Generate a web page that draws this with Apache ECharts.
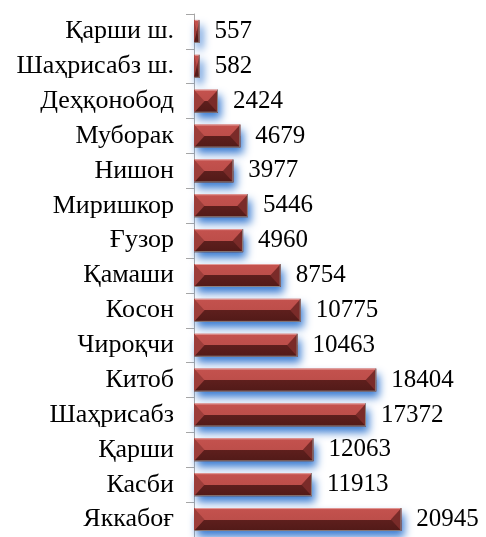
<!DOCTYPE html>
<html>
<head>
<meta charset="utf-8">
<script src="https://cdn.jsdelivr.net/npm/echarts@6/dist/echarts.min.js"></script>
<style>
  html, body { margin: 0; padding: 0; background: #fff; }
  #chart { width: 486px; height: 537px; }
</style>
</head>
<body>
<div id="chart"></div>
<script>
// districts, top to bottom
var districts = ['Қарши ш.', 'Шаҳрисабз ш.', 'Деҳқонобод', 'Муборак', 'Нишон', 'Миришкор', 'Ғузор',
  'Қамаши', 'Косон', 'Чироқчи', 'Китоб', 'Шаҳрисабз', 'Қарши', 'Касби', 'Яккабоғ']
var counts = [557, 582, 2424, 4679, 3977, 5446, 4960, 8754, 10775, 10463, 18404, 17372, 12063, 11913, 20945]

var BAR_H = 23
var font = 'Liberation Serif, Times New Roman, serif'

var chart = echarts.init(document.getElementById('chart'))

// bevel facets drawn over each bar
function bevel(params, api) {
  var idx = api.value(0)
  var v = api.value(1)
  var p0 = api.coord([0, idx])
  var p1 = api.coord([v, idx])
  var x0 = p0[0], x1 = p1[0]
  var y0 = p0[1] - BAR_H / 2, y1 = p0[1] + BAR_H / 2, ym = p0[1]
  var b = Math.min(BAR_H / 2 - 1, (x1 - x0) / 2)
  return {
    type: 'group',
    children: [
      { type: 'polygon', shape: { points: [[x0, y0], [x0 + b, ym], [x0, y1]] },
        style: { fill: '#9c3d3a' } },
      { type: 'polygon', shape: { points: [[x1, y0], [x1 - b, ym], [x1, y1]] },
        style: { fill: '#7a2b29' } },
      { type: 'line', shape: { x1: x0 + 1, y1: y0 + 0.5, x2: x1 - 1, y2: y0 + 0.5 },
        style: { stroke: '#e39a97', lineWidth: 1 } },
      { type: 'polyline', shape: { points: [[x1 - 0.5, y0], [x1 - 0.5, y1 - 0.5], [x0, y1 - 0.5]] },
        style: { stroke: '#8a8080', lineWidth: 1, fill: null } }
    ]
  }
}

chart.setOption({
  animation: false,
  grid: { left: 194, top: 14, height: 525, width: 247.5 },
  xAxis: { type: 'value', min: 0, max: 25000, show: false },
  yAxis: {
    type: 'category',
    inverse: true,
    data: districts,
    axisLine: { show: true, lineStyle: { color: '#a6a6a6', width: 1 } },
    axisTick: { show: true, length: 8, lineStyle: { color: '#a6a6a6' } },
    axisLabel: { margin: 20, fontSize: 26, color: '#000', fontFamily: font }
  },
  series: [{
    type: 'bar',
    data: counts,
    barWidth: BAR_H,
    itemStyle: {
      color: {
        type: 'linear', x: 0, y: 0, x2: 0, y2: 1,
        colorStops: [
          { offset: 0, color: '#c4524e' },
          { offset: 0.5, color: '#bd4e4a' },
          { offset: 0.5, color: '#5e1f1d' },
          { offset: 1, color: '#521a18' }
        ]
      },
      shadowColor: 'rgba(60, 125, 210, 1)',
      shadowBlur: 8,
      shadowOffsetX: 3,
      shadowOffsetY: 6
    },
    label: {
      show: true,
      position: 'right',
      distance: 15,
      fontSize: 25,
      color: '#000',
      fontFamily: font
    }
  }, {
    type: 'custom',
    renderItem: bevel,
    encode: { x: 1, y: 0 },
    data: counts.map(function (c, i) { return [i, c] }),
    z: 3
  }]
})
</script>
</body>
</html>
